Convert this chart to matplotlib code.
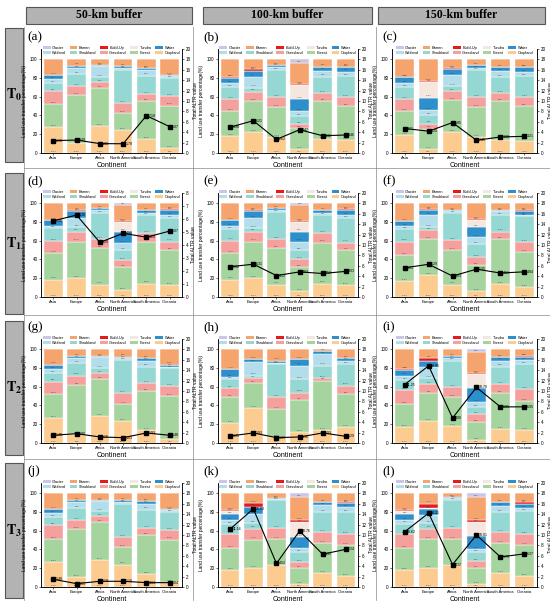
import numpy as np
import matplotlib.pyplot as plt
from matplotlib.patches import Rectangle, Patch

plt.rcParams['font.family'] = ['Liberation Sans', 'DejaVu Sans']
plt.rcParams['mathtext.fontset'] = 'stix'

# === データ ===
continents = ['Asia', 'Europe', 'Africa', 'North America', 'South America', 'Oceania']
classes = ['Cropland', 'Forest', 'Grassland', 'Shrubland', 'Wetland',
           'Water', 'Tundra', 'Build-Up', 'Barren', 'Glacier']
class_colors = ['#FCCB8F', '#A6D49F', '#F4A09C', '#94D7D3', '#B3DDEB',
                '#2D8FCB', '#F6E6E0', '#E41A1C', '#F5A46E', '#CBC5E8']
buffers = ['50-km buffer', '100-km buffer', '150-km buffer']
periods = [r'$\mathbf{T_{0}}$', r'$\mathbf{T_{1}}$', r'$\mathbf{T_{2}}$', r'$\mathbf{T_{3}}$']
letters = ['a', 'b', 'c', 'd', 'e', 'f', 'g', 'h', 'i', 'j', 'k', 'l']

# land use share (%) per continent, columns in the order of `classes`
a_share = [[27.3, 24.7, 13.6, 8.9, 4.5, 4.3, 0, 0, 16.7, 0],
           [10.6, 50.7, 10.3, 12.8, 6.0, 2.6, 0, 0, 7.0, 0],
           [29.0, 40.0, 6.5, 5.4, 11.3, 1.4, 0, 0, 6.4, 0],
           [24.8, 17.8, 10.6, 35.5, 1.7, 1.8, 0, 0, 7.8, 0],
           [14.9, 40.1, 8.0, 19.3, 6.4, 1.7, 0, 0, 9.6, 0],
           [5.3, 45.1, 10.6, 18.8, 1.8, 1.7, 0, 0, 16.7, 0]]
b_share = [[18.4, 25.8, 13.0, 12.8, 4.2, 6.0, 0, 0.8, 19.0, 0],
           [21.9, 32.9, 10.6, 4.2, 11.7, 6.3, 0, 1.8, 10.6, 0],
           [16.6, 32.2, 10.6, 28.9, 3.6, 1.7, 0, 0, 6.4, 0],
           [4.2, 22.3, 4.6, 7.8, 5.3, 13.0, 15.2, 1.1, 22.6, 3.9],
           [14.8, 40.0, 8.8, 17.7, 6.3, 4.3, 0, 0, 8.1, 0],
           [13.4, 36.1, 9.9, 22.6, 4.6, 4.6, 0, 0.7, 8.1, 0]]
c_share = [[18.9, 25.6, 13.2, 12.8, 3.5, 6.4, 0, 0.6, 19.0, 0],
           [4.6, 21.4, 5.3, 8.9, 5.3, 13.5, 16.8, 0.7, 23.5, 0],
           [22.4, 33.8, 10.0, 5.0, 11.7, 6.1, 0, 1.7, 9.3, 0],
           [17.1, 32.0, 10.7, 28.5, 1.7, 3.6, 0, 0, 6.4, 0],
           [14.2, 41.0, 8.8, 17.1, 6.4, 4.3, 0, 0, 8.2, 0],
           [12.8, 37.0, 9.3, 22.8, 4.6, 4.6, 0, 0.7, 8.2, 0]]
d_share = [[18.6, 28.5, 12.5, 13.6, 2.5, 6.4, 0, 0, 17.9, 0],
           [20.4, 38.5, 10.7, 4.7, 9.6, 7.2, 0, 1.8, 7.1, 0],
           [13.2, 39.3, 8.9, 27.9, 3.6, 1.7, 0, 0, 5.4, 0],
           [7.1, 24.3, 7.9, 10.7, 7.1, 12.5, 9.7, 1.1, 17.8, 1.8],
           [14.3, 44.6, 9.0, 19.6, 1.8, 3.6, 0, 0, 7.1, 0],
           [12.5, 37.5, 8.9, 25.0, 3.6, 4.6, 0, 1.5, 6.4, 0]]
e_share = [[18.6, 28.5, 12.9, 12.1, 2.9, 7.1, 0, 0, 17.9, 0],
           [20.4, 38.5, 10.7, 3.6, 10.7, 7.2, 0, 1.8, 7.1, 0],
           [13.2, 39.3, 8.9, 28.6, 2.9, 1.7, 0, 0, 5.4, 0],
           [6.0, 25.4, 8.6, 10.0, 8.9, 10.7, 9.7, 1.1, 17.8, 1.8],
           [14.3, 43.6, 10.0, 19.6, 1.8, 3.6, 0, 0, 7.1, 0],
           [12.5, 37.5, 7.9, 26.0, 3.6, 4.6, 0, 1.5, 6.4, 0]]
f_share = [[16.8, 27.8, 14.3, 13.2, 2.9, 5.4, 0, 0, 19.6, 0],
           [23.2, 38.2, 10.0, 2.9, 12.5, 5.3, 0, 1.5, 6.4, 0],
           [13.2, 36.8, 10.7, 28.6, 1.8, 1.8, 0, 0, 7.1, 0],
           [6.4, 27.5, 9.0, 13.2, 7.5, 10.7, 7.8, 1.1, 16.8, 0],
           [13.6, 47.8, 8.2, 17.9, 3.6, 1.8, 0, 0, 7.1, 0],
           [10.7, 37.5, 10.0, 27.5, 1.8, 3.6, 0, 1.0, 7.9, 0]]
g_share = [[26.9, 24.7, 13.8, 8.8, 4.6, 4.6, 0, 0, 16.6, 0],
           [9.9, 51.9, 9.9, 13.1, 5.7, 2.4, 0, 0, 7.1, 0],
           [28.6, 39.6, 6.0, 5.7, 11.3, 1.7, 0, 0, 7.1, 0],
           [23.3, 18.4, 11.3, 35.3, 2.2, 1.4, 0, 0, 8.1, 0],
           [14.1, 41.0, 8.5, 17.7, 6.3, 2.9, 0, 0, 9.5, 0],
           [4.6, 44.9, 10.9, 19.1, 1.8, 2.1, 0, 0, 16.6, 0]]
h_share = [[21.6, 27.2, 9.9, 9.5, 1.8, 8.8, 0, 0, 21.2, 0],
           [37.1, 26.5, 5.7, 2.4, 14.2, 3.5, 0, 0, 10.6, 0],
           [6.4, 30.0, 12.4, 35.3, 1.1, 2.4, 0, 0, 12.4, 0],
           [11.7, 34.2, 7.8, 14.5, 14.1, 7.1, 0, 0, 10.6, 0],
           [14.1, 52.3, 2.9, 13.0, 12.4, 2.8, 0, 0, 2.5, 0],
           [17.0, 35.3, 8.8, 23.0, 3.5, 2.9, 0, 0, 9.5, 0]]
i_share = [[17.0, 24.7, 14.8, 10.6, 4.6, 6.4, 0, 0.7, 21.2, 0],
           [23.3, 29.7, 9.9, 6.4, 11.3, 6.3, 0, 3.6, 9.5, 0],
           [17.7, 31.1, 10.6, 28.2, 2.9, 2.4, 0, 0, 7.1, 0],
           [3.5, 18.8, 8.8, 7.1, 5.3, 15.2, 14.8, 0.7, 22.3, 3.5],
           [15.2, 37.8, 9.9, 18.4, 6.3, 3.6, 0, 0, 8.8, 0],
           [13.4, 31.1, 13.1, 26.5, 4.2, 3.6, 0, 1.0, 7.1, 0]]
j_share = [[26.6, 24.8, 14.2, 8.9, 4.2, 4.6, 0, 0, 16.7, 0],
           [10.6, 50.7, 10.3, 12.8, 6.0, 2.5, 0, 0, 7.1, 0],
           [28.4, 40.7, 6.4, 5.0, 11.0, 1.4, 0, 0, 7.1, 0],
           [23.8, 18.8, 10.6, 35.5, 1.7, 1.8, 0, 0, 7.8, 0],
           [14.2, 40.8, 8.1, 19.2, 6.4, 2.4, 0, 0, 8.9, 0],
           [5.3, 45.1, 10.6, 18.8, 1.8, 1.7, 0, 0, 16.7, 0]]
k_share = [[17.7, 24.1, 14.9, 10.0, 4.9, 6.4, 2.9, 0.7, 18.4, 0],
           [20.6, 29.8, 11.7, 6.0, 9.9, 7.5, 0, 3.9, 10.6, 0],
           [23.0, 28.4, 11.7, 29.1, 1.1, 1.7, 0, 0, 5.0, 0],
           [3.5, 17.1, 6.0, 10.6, 4.3, 11.7, 15.9, 1.8, 24.8, 4.3],
           [15.2, 31.6, 11.7, 21.3, 7.1, 3.5, 0, 0, 9.6, 0],
           [11.3, 33.0, 12.4, 23.1, 5.3, 4.3, 0, 1.0, 9.6, 0]]
l_share = [[17.7, 24.1, 14.9, 10.7, 4.2, 6.4, 2.9, 0.7, 18.4, 0],
           [20.6, 30.8, 10.7, 6.0, 8.1, 7.1, 1.1, 4.3, 11.3, 0],
           [23.0, 28.4, 11.7, 29.8, 1.8, 1.0, 0, 0, 4.3, 0],
           [2.8, 17.8, 6.7, 9.9, 3.6, 13.1, 15.2, 1.8, 24.8, 4.3],
           [15.2, 31.6, 11.7, 21.3, 6.0, 4.6, 0, 0, 9.6, 0],
           [11.3, 33.0, 12.4, 23.8, 3.9, 4.3, 0, 1.7, 9.6, 0]]

# Total ALTR value
a_altr = [2.38, 2.49, 1.80, 1.78, 7.18, 5.07]
b_altr = [4.98, 6.21, 2.62, 4.47, 3.32, 3.46]
c_altr = [4.71, 4.20, 5.85, 2.45, 3.08, 3.21]
d_altr = [5.86, 6.30, 4.20, 4.90, 4.60, 5.07]
e_altr = [5.82, 6.31, 4.12, 4.83, 4.52, 4.93]
f_altr = [5.61, 6.29, 4.03, 5.35, 4.61, 4.84]
g_altr = [1.48, 1.80, 1.16, 1.03, 1.93, 1.48]
h_altr = [1.35, 1.93, 1.03, 1.16, 1.93, 1.29]
i_altr = [11.25, 14.85, 4.80, 10.70, 6.95, 6.95]
j_altr = [1.48, 0.65, 1.10, 1.10, 0.84, 0.84]
k_altr = [11.16, 15.03, 4.52, 10.76, 6.31, 7.24]
l_altr = [10.62, 14.21, 4.32, 10.01, 5.78, 6.37]
altr_max = [20, 20, 20, 8, 20, 20, 20, 20, 20, 20, 20, 20]

shares = [a_share, b_share, c_share, d_share, e_share, f_share,
          g_share, h_share, i_share, j_share, k_share, l_share]
altrs = [a_altr, b_altr, c_altr, d_altr, e_altr, f_altr,
         g_altr, h_altr, i_altr, j_altr, k_altr, l_altr]

# === レイアウト (pixel) ===
W, H = 550, 605
col_x = [(41, 182), (218, 358), (392, 537)]
row_y = [(49, 153), (193, 297), (339, 443), (483, 587)]
head_x = [(26, 192), (203, 372), (378, 545)]
rowbox_y = [(28, 162), (173, 314), (321, 455), (463, 598)]
label_x = [27, 203, 382]


def frac(x0, y0, x1, y1):
    return [x0 / W, 1 - y1 / H, (x1 - x0) / W, (y1 - y0) / H]


fig = plt.figure(figsize=(5.5, 6.05), dpi=100)
bg = fig.add_axes([0, 0, 1, 1])
bg.set_xlim(0, W)
bg.set_ylim(H, 0)
bg.axis('off')

# 見出しと行ラベル
for c, name in enumerate(buffers):
    x0, x1 = head_x[c]
    bg.add_patch(Rectangle((x0, 7), x1 - x0, 17, facecolor='#b3b3b3', edgecolor='#555555', lw=0.8))
    bg.text((x0 + x1) / 2, 15.5, name, ha='center', va='center', fontsize=8.5,
            fontweight='bold', family='Liberation Serif')
for r, p in enumerate(periods):
    y0, y1 = rowbox_y[r]
    bg.add_patch(Rectangle((5, y0), 18, y1 - y0, facecolor='#b3b3b3', edgecolor='#555555', lw=0.8))
    bg.text(14, (y0 + y1) / 2, p, ha='center', va='center', fontsize=10)

# 枠線
for xv in [24, 193, 376]:
    bg.plot([xv, xv], [27, 600], color='#888888', lw=0.5)
for yv in [168, 315, 459]:
    bg.plot([24, W], [yv, yv], color='#888888', lw=0.5)

x = np.arange(len(continents))
legend_order = ['Glacier', 'Wetland', 'Barren', 'Shrubland', 'Build-Up',
                'Grassland', 'Tundra', 'Forest', 'Water', 'Cropland']

for k in range(12):
    r, c = k // 3, k % 3
    x0, x1 = col_x[c]
    yt, yb = row_y[r]
    ax = fig.add_axes(frac(x0, yt, x1, yb))
    vals = np.array(shares[k])
    bottom = np.zeros(len(continents))
    for j, cls in enumerate(classes):
        ax.bar(x, vals[:, j], bottom=bottom, width=0.8, color=class_colors[j],
               edgecolor='white', linewidth=0.3)
        for i in range(len(continents)):
            if vals[i, j] > 0:
                ax.text(x[i], bottom[i] + 1.2, f'{vals[i, j]:.2f}', ha='center', va='bottom',
                        fontsize=1.6, color='#444444')
        bottom += vals[:, j]

    ax.set_xlim(-0.53, 5.53)
    ax.set_ylim(0, 110.6)
    ax.set_yticks([0, 20, 40, 60, 80, 100])
    ax.set_xticks(x)
    ax.set_xticklabels(continents, fontsize=3.0)
    ax.tick_params(axis='y', labelsize=3.3, length=1.5, width=0.4, pad=1)
    ax.tick_params(axis='x', length=1.5, width=0.4, pad=1)
    ax.set_ylabel('Land use transfer percentage(%)', fontsize=3.5, labelpad=2)
    ax.set_xlabel('Continent', fontsize=5, labelpad=1)
    ax.spines['top'].set_visible(False)
    for s in ['left', 'bottom', 'right']:
        ax.spines[s].set_linewidth(0.5)

    ax2 = ax.twinx()
    ax2.plot(x, altrs[k], color='black', lw=0.8, marker='s', markersize=2.2)
    for i, v in enumerate(altrs[k]):
        ax2.text(x[i] + 0.1, v, f'{v:.2f}', ha='left', va='center', fontsize=2.6)
    ax2.set_ylim(0, altr_max[k])
    step = 1 if altr_max[k] <= 10 else 2
    ax2.set_yticks(np.arange(0, altr_max[k] + 0.1, step))
    ax2.tick_params(axis='y', labelsize=3.3, length=1.5, width=0.4, pad=1)
    ax2.set_ylabel('Total ALTR value', fontsize=3.5, labelpad=2)
    ax2.spines['top'].set_visible(False)
    for s in ['left', 'bottom', 'right']:
        ax2.spines[s].set_linewidth(0.5)

    handles = [Patch(facecolor=class_colors[classes.index(n)], edgecolor='none', label=n)
               for n in legend_order]
    ax2.legend(handles=handles, loc='upper center', bbox_to_anchor=(0.5, 1.03), ncol=5,
               frameon=False, fontsize=2.8, handlelength=2.0, handleheight=0.9,
               columnspacing=0.9, labelspacing=0.3, handletextpad=0.4, borderaxespad=0,
               borderpad=0)

    bg.text(label_x[c], yt - 12, f'({letters[k]})', ha='left', va='center', fontsize=9.5,
            family='Liberation Serif')

fig.savefig('out.png', dpi=100)
